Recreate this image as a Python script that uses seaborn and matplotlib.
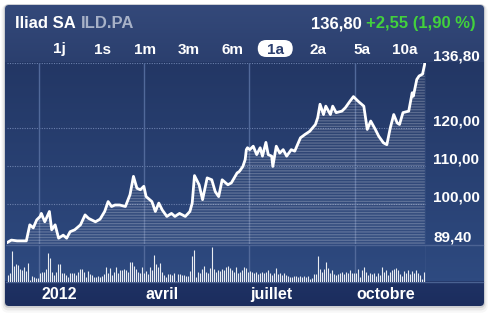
import matplotlib
matplotlib.use("Agg")
import numpy as np
import pandas as pd
import matplotlib.pyplot as plt
import seaborn as sns
from matplotlib.patches import FancyBboxPatch
from matplotlib.colors import LinearSegmentedColormap
from matplotlib import transforms

# ---------------- data ----------------
company = "Iliad SA"
ticker = "ILD.PA"
last_price = "136,80"
change_text = "+2,55 (1,90 %)"
range_labels = ["1j", "1s", "1m", "3m", "6m", "1a", "2a", "5a", "10a"]
selected_range = "1a"
month_days = [0, 91, 182, 274]           # days since 2012-01-01
month_labels = ["2012", "avril", "juillet", "octobre"]
y_levels = [136.80, 120.00, 110.00, 100.00, 89.40]

day = [-28, -24, -19, -11, -8, -5, -2, 1, 2, 5, 9, 11, 14, 17, 21, 24, 27, 31, 36, 40,
       43, 49, 53, 57, 60, 63, 66, 70, 75, 79, 82, 85, 88, 91, 93, 98, 101, 104, 107, 111,
       115, 118, 122, 127, 131, 133, 135, 139, 142, 146, 150, 153, 156, 159, 164, 167, 172, 174, 177, 179,
       180, 181, 183, 186, 189, 192, 194, 197, 199, 202, 203, 206, 209, 212, 215, 219, 222, 227, 231, 235,
       240, 242, 244, 247, 249, 253, 255, 258, 263, 266, 270, 273, 277, 282, 285, 288, 292, 295, 299, 302,
       305, 308, 311, 313, 316, 321, 324, 325, 328, 330, 333, 335]
price = [89.8, 90.5, 90.3, 90.3, 94.5, 93.7, 95.8, 96.7, 97.5, 95.3, 98.0, 93.2, 94.5, 91.0, 91.8, 91.0, 92.7, 93.2, 94.5, 97.1,
         96.2, 95.3, 96.0, 98.0, 100.6, 99.3, 99.7, 99.7, 99.3, 102.4, 107.2, 104.1, 103.7, 104.6, 101.9, 100.6, 98.0, 100.2, 98.4, 96.7,
         97.5, 96.7, 97.5, 96.7, 98.0, 100.2, 107.4, 105.0, 101.1, 106.8, 106.3, 103.2, 101.9, 106.3, 105.0, 105.5, 108.1, 108.5, 109.8, 111.6,
         114.2, 114.7, 114.2, 115.1, 112.9, 114.7, 112.5, 116.1, 112.9, 112.5, 109.8, 115.1, 113.3, 114.2, 112.5, 114.2, 113.8, 117.3, 118.2, 119.0,
         120.8, 122.6, 126.1, 123.4, 125.6, 123.4, 125.6, 123.9, 124.3, 125.2, 126.9, 128.1, 126.9, 125.6, 119.5, 121.7, 119.5, 117.7, 116.0, 115.5,
         119.9, 123.4, 121.2, 120.8, 123.9, 124.3, 129.1, 128.2, 132.6, 133.5, 134.0, 136.8]

vol_first_day = -27.2
vol_last_day = 334.2
volume_k = [20, 27, 93, 48, 53, 50, 37, 35, 43, 33, 55, 5, 17, 15, 10, 12, 25, 30, 30, 37,
            87, 70, 30, 20, 30, 52, 52, 27, 25, 20, 15, 25, 27, 27, 20, 30, 37, 37, 30, 15,
            33, 23, 20, 13, 15, 17, 15, 17, 23, 43, 27, 40, 20, 30, 43, 25, 35, 35, 37, 35,
            30, 60, 58, 47, 37, 30, 27, 45, 25,
            33, 23, 43, 35, 80, 53, 45, 55, 30, 20, 15, 23, 23, 20, 25, 3, 23, 23, 20, 20,
            17, 18, 33, 77, 95, 15, 30, 27, 37, 47, 30, 25, 40, 103, 37, 30, 35, 33, 37, 35,
            45, 47, 40, 35, 30, 43, 27, 30, 35, 43, 40, 30, 33, 30, 25, 30, 23, 25, 30, 25,
            30, 35, 27, 20, 27, 40, 23, 27, 20, 25, 20, 17,
            13, 15, 18, 18, 15, 17, 15, 17, 15, 17, 7, 10, 23, 23, 77, 37, 30, 37, 60, 40,
            27, 35, 23, 20, 23, 27, 30, 23, 30, 27, 35, 27, 27, 27, 37, 15, 35, 45, 30, 20,
            25, 23, 27, 17, 27, 20, 43, 30, 35, 20, 30, 35, 37, 40, 35, 23, 17, 33, 27, 35,
            23, 33, 25, 35, 27, 20, 7, 30]

# ---------------- style ----------------
sns.set_theme(style="white")
plt.rcParams["font.family"] = ["Liberation Sans", "DejaVu Sans"]
plt.rcParams["hatch.linewidth"] = 0.9

W, H = 493, 315
fig = plt.figure(figsize=(W / 100, H / 100), dpi=100)
fig.patch.set_facecolor("white")


def rect(x0, y0, x1, y1):
    return [x0 / W, 1 - y1 / H, (x1 - x0) / W, (y1 - y0) / H]


PX0, PY0, PX1, PY1 = 5, 5, 484, 306
CH_L, CH_R, CH_T, CH_B = 7, 426, 63.4, 244.3
VOL_B = 281.5
BAND_B = 306

bg = fig.add_axes([0, 0, 1, 1])
bg.set_xlim(0, W)
bg.set_ylim(H, 0)
bg.axis("off")

# shadow
for i, a in enumerate([0.10, 0.06, 0.03]):
    sh = FancyBboxPatch((PX0 - i * 0.5, PY0 + 1 + i * 0.5), PX1 - PX0 + i, PY1 - PY0 + i,
                        boxstyle="round,pad=0,rounding_size=4", fc="none",
                        ec=(0, 0, 0, a), lw=1.5 + i * 1.2, zorder=0)
    bg.add_patch(sh)

panel = FancyBboxPatch((PX0, PY0), PX1 - PX0, PY1 - PY0,
                       boxstyle="round,pad=0,rounding_size=4", fc="#2a3f6e",
                       ec="#c7cad0", lw=1.2, zorder=1)
bg.add_patch(panel)


def grad(y0, y1, c0, c1, z=2):
    cmap = LinearSegmentedColormap.from_list("g", [c0, c1])
    im = bg.imshow(np.linspace(0, 1, 64)[:, None], extent=(PX0, PX1, y1, y0),
                   cmap=cmap, aspect="auto", zorder=z, interpolation="bilinear")
    im.set_clip_path(panel)


grad(PY0, CH_T, "#34497a", "#2b3f6e")
grad(CH_T, VOL_B, "#233765", "#2e4a80")
grad(VOL_B, BAND_B, "#1f3265", "#1b2d5d")

# separator lines
bg.plot([PX0 + 1, PX1 - 1], [CH_B + 0.7, CH_B + 0.7], color="#4c6393", lw=1.0, zorder=3)
bg.plot([PX0 + 1, PX1 - 1], [VOL_B + 0.5, VOL_B + 0.5], color="#4a6191", lw=1.0, zorder=3)

# header texts
fig.canvas.draw()
rend = fig.canvas.get_renderer()
t1 = bg.text(15, 28.3, company, ha="left", va="baseline", fontsize=12,
             fontweight="bold", color="white", zorder=5)
bb = t1.get_window_extent(rend)
bg.text(bb.x1 + 5, 28.3, ticker, ha="left", va="baseline", fontsize=12,
        fontweight="bold", color="#a7b1c7", zorder=5)
t2 = bg.text(476, 28.3, change_text, ha="right", va="baseline", fontsize=12,
             fontweight="bold", color="#42d13c", zorder=5)
bb2 = t2.get_window_extent(rend)
bg.text(bb2.x0 - 5, 28.3, last_price, ha="right", va="baseline", fontsize=12,
        fontweight="bold", color="white", zorder=5)

# range buttons
for i, lab in enumerate(range_labels):
    cx = 59 + 43.25 * i
    col = "white"
    if lab == selected_range:
        pill = FancyBboxPatch((cx - 17.5, 40), 35, 17,
                              boxstyle="round,pad=0,rounding_size=8.5",
                              fc="white", ec="none", zorder=4)
        bg.add_patch(pill)
        col = "#2b3e6e"
    bg.text(cx, 53.5, lab, ha="center", va="baseline", fontsize=11,
            fontweight="bold", color=col, zorder=5)

# ---------------- price chart ----------------
ax = fig.add_axes(rect(CH_L, CH_T, CH_R, CH_B))
ax.patch.set_alpha(0)
ax.set_xlim(-27.8, 336)
ax.set_ylim(y_levels[-1], y_levels[0])
for s in ax.spines.values():
    s.set_visible(False)
ax.set_xticks([])
ax.set_yticks([])

for v in y_levels[:-1]:
    ax.axhline(v, color="#6a7fac", lw=0.8, ls=(0, (1, 1.2)), zorder=1)
for d in month_days:
    ax.axvline(d, color="#51699a", lw=1.0, zorder=1)
ax.axvline(336, color="#51699a", lw=1.0, zorder=1)

ax.fill_between(day, price, y_levels[-1], facecolor=(1, 1, 1, 0.04),
                edgecolor=(1, 1, 1, 0.22), hatch="------", lw=0, zorder=2)
sns.lineplot(x=day, y=price, ax=ax, color="white", lw=2.0, zorder=3,
             legend=False, solid_joinstyle="round", solid_capstyle="round")
ax.set_xlabel("")
ax.set_ylabel("")

ytr = transforms.offset_copy(ax.get_yaxis_transform(), fig=fig, x=7, y=2.5, units="dots")
for v in y_levels:
    ax.text(1.0, v, f"{v:.2f}".replace(".", ","), transform=ytr, ha="left",
            va="baseline", fontsize=11, fontweight="bold", color="white",
            clip_on=False)

# ---------------- volume ----------------
axv = fig.add_axes(rect(CH_L, CH_B + 1, CH_R, VOL_B))
axv.patch.set_alpha(0)
axv.set_xlim(ax.get_xlim())
axv.set_ylim(0, 109)
for s in axv.spines.values():
    s.set_visible(False)
axv.set_xticks([])
axv.set_yticks([])
vol_x = np.linspace(vol_first_day, vol_last_day, len(volume_k))
for d in month_days:
    axv.axvline(d, color="#51699a", lw=1.0, zorder=1)
axv.axvline(336, color="#51699a", lw=1.0, zorder=1)
axv.vlines(vol_x, 0, volume_k, color="white", lw=0.8, alpha=0.9, zorder=2)

# ---------------- month band ----------------
axb = fig.add_axes(rect(CH_L, VOL_B + 1, CH_R, BAND_B))
axb.patch.set_alpha(0)
axb.set_xlim(ax.get_xlim())
axb.set_ylim(0, 1)
axb.axis("off")
xtr = transforms.offset_copy(axb.get_xaxis_transform(), fig=fig, x=2, y=0, units="dots")
for d, lab in zip(month_days, month_labels):
    axb.text(d, 0.5, lab, transform=xtr, ha="left", va="center", fontsize=11.5,
             fontweight="bold", color="white")

fig.savefig("out.png", dpi=100, facecolor="white")
